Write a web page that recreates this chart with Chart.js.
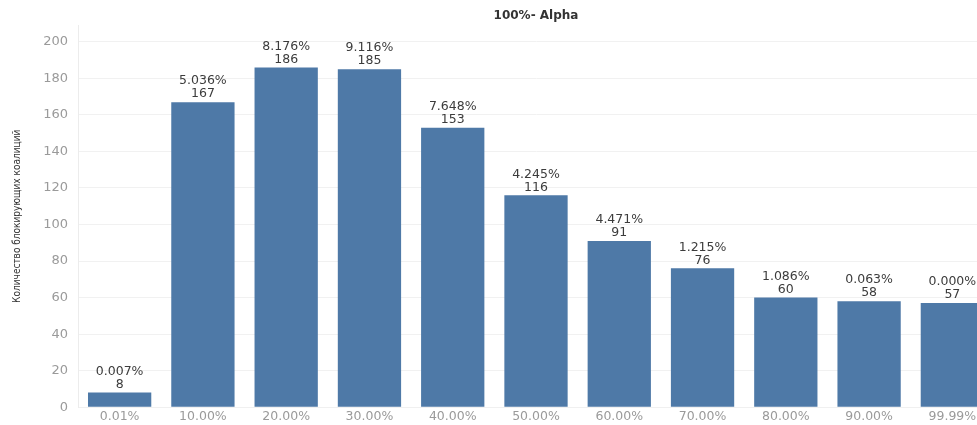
<!DOCTYPE html>
<html>
<head>
<meta charset="utf-8">
<script src="https://cdn.jsdelivr.net/npm/chart.js@4/dist/chart.umd.min.js"></script>
<style>
    html, body {
        margin: 0;
        padding: 0;
        background: #ffffff;
        overflow: hidden;
    }
    .chart-box {
        position: relative;
        width: 1000px;
        height: 425px;
    }
</style>
</head>
<body>
<div class="chart-box">
    <canvas id="alphaChart"></canvas>
</div>
<script>
const categories = ["0.01%", "10.00%", "20.00%", "30.00%", "40.00%", "50.00%", "60.00%", "70.00%", "80.00%", "90.00%", "99.99%"];
const coalitionCounts = [8, 167, 186, 185, 153, 116, 91, 76, 60, 58, 57];
const shareLabels = ["0.007%", "5.036%", "8.176%", "9.116%", "7.648%", "4.245%", "4.471%", "1.215%", "1.086%", "0.063%", "0.000%"];
const yTicks = [0, 20, 40, 60, 80, 100, 120, 140, 160, 180, 200];

const barLabels = {
    id: "barLabels",
    afterDatasetsDraw(chart) {
        const ctx = chart.ctx;
        const meta = chart.getDatasetMeta(0);
        ctx.save();
        ctx.fillStyle = "#3c3c3c";
        ctx.font = "12.5px 'DejaVu Sans'";
        ctx.textAlign = "center";
        ctx.textBaseline = "middle";
        meta.data.forEach((bar, i) => {
            ctx.fillText(String(coalitionCounts[i]), bar.x, bar.y - 8);
            ctx.fillText(shareLabels[i], bar.x, bar.y - 21);
        });
        ctx.restore();
    }
};

new Chart(document.getElementById("alphaChart"), {
    type: "bar",
    data: {
        labels: categories,
        datasets: [{
            label: "Количество блокирующих коалиций",
            data: coalitionCounts,
            backgroundColor: "#4e79a7",
            borderWidth: 0,
            categoryPercentage: 1,
            barPercentage: 0.76
        }]
    },
    options: {
        responsive: true,
        maintainAspectRatio: false,
        animation: false,
        layout: {
            padding: { top: 0, right: 6, bottom: 0, left: 0 }
        },
        plugins: {
            legend: { display: false },
            tooltip: { enabled: false },
            title: {
                display: true,
                text: "100%- Alpha",
                fullSize: false,
                color: "#333333",
                font: { family: "DejaVu Sans", size: 12, weight: "bold" },
                padding: { top: 9, bottom: 2 }
            }
        },
        scales: {
            x: {
                grid: { display: false, drawTicks: false },
                border: { color: "#f0f0f0" },
                ticks: {
                    color: "#9a9a9a",
                    font: { family: "DejaVu Sans", size: 12.5 },
                    padding: 2,
                    maxRotation: 0,
                    autoSkip: false
                },
                afterFit(scale) {
                    scale.height = 15;
                }
            },
            y: {
                min: 0,
                max: 209,
                afterBuildTicks(scale) {
                    scale.ticks = yTicks.map(value => ({ value }));
                },
                grid: {
                    color: "#f1f1f1",
                    drawTicks: false
                },
                border: { color: "#ececec" },
                ticks: {
                    color: "#9a9a9a",
                    font: { family: "DejaVu Sans", size: 13 },
                    padding: 10
                },
                title: {
                    display: true,
                    text: "Количество блокирующих коалиций",
                    color: "#333333",
                    font: { family: "DejaVu Sans Condensed", size: 10 },
                    padding: { top: 11, bottom: 0 }
                },
                afterFit(scale) {
                    scale.width = 78;
                }
            }
        }
    },
    plugins: [barLabels]
});
</script>
</body>
</html>
